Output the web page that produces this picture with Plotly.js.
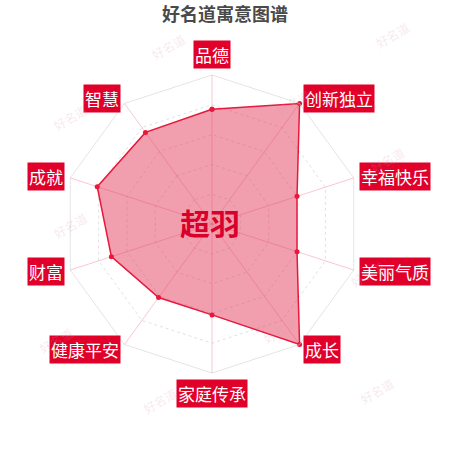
<!DOCTYPE html>
<html>
<head>
<meta charset="utf-8">
<script src="https://cdn.plot.ly/plotly-3.0.1.min.js"></script>
<style>
  html, body { margin: 0; padding: 0; background: #fff; }
  #chart { width: 450px; height: 450px; }
</style>
</head>
<body>
<div id="chart"></div>
<script>
var categories = ['品德', '创新独立', '幸福快乐', '美丽气质', '成长', '家庭传承', '健康平安', '财富', '成就', '智慧'];
var values = [77, 100, 60, 60, 100, 61, 61, 71, 81, 76];
var maxValue = 100;
var chartTitle = '好名道寓意图谱';
var nameText = '超羽';

// closed polygon
var r = values.concat([values[0]]);
var theta = categories.concat([categories[0]]);

var W = 450, H = 450;
var cx = 212, cy = 224, R = 149;
var dom = {
	x: [(cx - R) / W, (cx + R) / W],
	y: [1 - (cy + R) / H, 1 - (cy - R) / H]
};

var trace = {
	type: 'scatterpolar',
	r: r,
	theta: theta,
	mode: 'lines+markers',
	fill: 'toself',
	fillcolor: 'rgba(226, 55, 85, 0.48)',
	line: { color: '#e8173b', width: 1.5 },
	marker: { color: '#e8173b', size: 5 },
	hoverinfo: 'none'
};

// category labels in red boxes, just outside the axis ends
var annotations = [];
categories.forEach(function(name, i) {
	var ang = (90 - i * 360 / categories.length) * Math.PI / 180;
	var c = Math.cos(ang), s = Math.sin(ang);
	var px = cx + (R + 6) * c;
	var py = cy - (R + 6) * s;
	annotations.push({
		text: name,
		x: px / W,
		y: 1 - py / H,
		xref: 'paper', yref: 'paper',
		xanchor: c > 0.05 ? 'left' : (c < -0.05 ? 'right' : 'center'),
		yanchor: s > 0.9 ? 'bottom' : (s < -0.9 ? 'top' : 'middle'),
		showarrow: false,
		bgcolor: '#e0002a',
		borderpad: 1,
		font: { family: 'Noto Sans CJK SC', size: 17, color: '#fff' }
	});
});

annotations.push({
	text: '<b>' + nameText + '</b>',
	x: 210 / W, y: 1 - 222 / H,
	xref: 'paper', yref: 'paper',
	showarrow: false,
	font: { family: 'Noto Sans CJK SC', size: 30, color: '#d9002b' }
});

// faint watermarks
var marks = [[168, 27], [415, 15], [47, 98], [293, 83], [410, 140], [47, 225], [390, 273], [33, 360], [280, 350], [160, 420], [400, 410]];
marks.forEach(function(m) {
	annotations.push({
		text: '好名道',
		x: m[0] / W, y: 1 - m[1] / H,
		xref: 'paper', yref: 'paper',
		showarrow: false,
		textangle: -30,
		font: { family: 'Noto Sans CJK SC', size: 12, color: 'rgba(220,150,160,0.22)' }
	});
});

var layout = {
	width: W,
	height: H,
	margin: { l: 0, r: 0, t: 0, b: 0 },
	paper_bgcolor: '#fff',
	showlegend: false,
	title: {
		text: '<b>' + chartTitle + '</b>',
		x: 0.5, xanchor: 'center',
		y: 1 - 15 / H, yanchor: 'middle',
		font: { family: 'Noto Sans CJK SC', size: 18, color: '#4a4a4a' }
	},
	polar: {
		domain: dom,
		gridshape: 'linear',
		bgcolor: 'rgba(255,255,255,0)',
		radialaxis: {
			range: [0, maxValue],
			dtick: 20,
			showticklabels: false,
			ticks: '',
			showline: false,
			gridcolor: 'rgba(200,200,200,0.55)',
			griddash: 'dot'
		},
		angularaxis: {
			direction: 'clockwise',
			rotation: 90,
			showticklabels: false,
			ticks: '',
			showline: true,
			linecolor: 'rgba(205,205,205,0.55)',
			linewidth: 1,
			gridcolor: 'rgba(235,120,140,0.4)'
		}
	},
	annotations: annotations
};

Plotly.newPlot('chart', [trace], layout, { displayModeBar: false, staticPlot: true });
</script>
</body>
</html>
